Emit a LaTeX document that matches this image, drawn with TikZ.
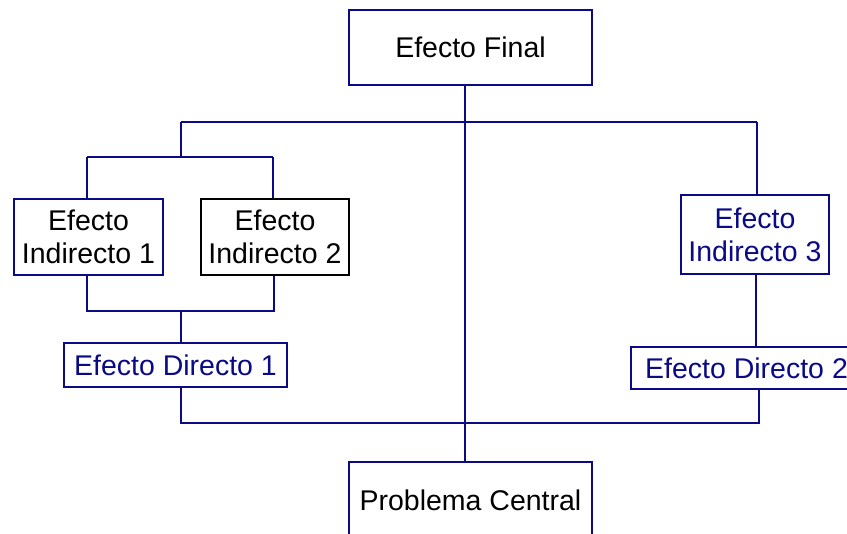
\documentclass[tikz,border=0pt]{standalone}
\usepackage{fontspec}
\setmainfont{Liberation Sans}
\definecolor{navy}{RGB}{10,10,135}
\begin{document}
\begin{tikzpicture}[x=1pt,y=-1pt,
  basebox/.style={fill=white, align=center, inner sep=0pt,
    font=\fontsize{28.5}{32.7}\selectfont},
  thinbox/.style={basebox, draw=navy, line width=1.6pt},
  thickbox/.style={basebox, draw=navy, line width=2.6pt},
  blackbox/.style={basebox, draw=black, line width=2.6pt},
  bluetext/.style={text=navy},
  conn/.style={draw=navy, line width=1.6pt}]
\clip (0,0) rectangle (847,534);
\fill[white] (0,0) rectangle (847,534);

% nodes
\node[thickbox, minimum width=243pt, minimum height=75pt] (final) at (470.5,47.5) {Efecto Final};
\node[thinbox, minimum width=149pt, minimum height=76pt] (ind1) at (88.5,237) {Efecto\\Indirecto 1};
\node[blackbox, minimum width=148pt, minimum height=76pt] (ind2) at (275,237) {Efecto\\Indirecto 2};
\node[thinbox, bluetext, minimum width=148pt, minimum height=79pt] (ind3) at (755,234.5) {Efecto\\Indirecto 3};
\node[thinbox, bluetext, minimum width=223pt, minimum height=44pt] (dir1) at (175.5,365) {Efecto Directo 1};
\node[thinbox, bluetext, minimum width=231pt, minimum height=42pt] (dir2) at (746.5,368) {Efecto Directo 2};
\node[thickbox, minimum width=243pt, minimum height=76pt] (prob) at (470.5,500) {Problema Central};

% junction coordinates
\coordinate (tC) at (465,122);
\coordinate (tL) at (181,122);
\coordinate (tR) at (757,122);
\coordinate (lj) at (181,157);
\coordinate (lj1) at (87,157);
\coordinate (lj2) at (273,157);
\coordinate (bj1) at (87,311);
\coordinate (bj2) at (274,311);
\coordinate (bj) at (181,311);
\coordinate (rc) at (756,300);
\coordinate (hb1) at (181,423);
\coordinate (hb2) at (759,423);

% connectors
\draw[conn] (final.south -| tC) -- (prob.north -| tC);
\draw[conn] (tL) -- (tR);
\draw[conn] (tL) -- (lj);
\draw[conn] (lj1) -- (lj2);
\draw[conn] (lj1) -- (ind1.north -| lj1);
\draw[conn] (lj2) -- (ind2.north -| lj2);
\draw[conn] (ind1.south -| bj1) -- (bj1) -- (bj2) -- (ind2.south -| bj2);
\draw[conn] (bj) -- (dir1.north -| bj);
\draw[conn] (dir1.south -| hb1) -- (hb1) -- (hb2) -- (dir2.south -| hb2);
\draw[conn] (tR) -- (ind3.north -| tR);
\draw[conn] (ind3.south -| rc) -- (dir2.north -| rc);
\end{tikzpicture}
\end{document}
